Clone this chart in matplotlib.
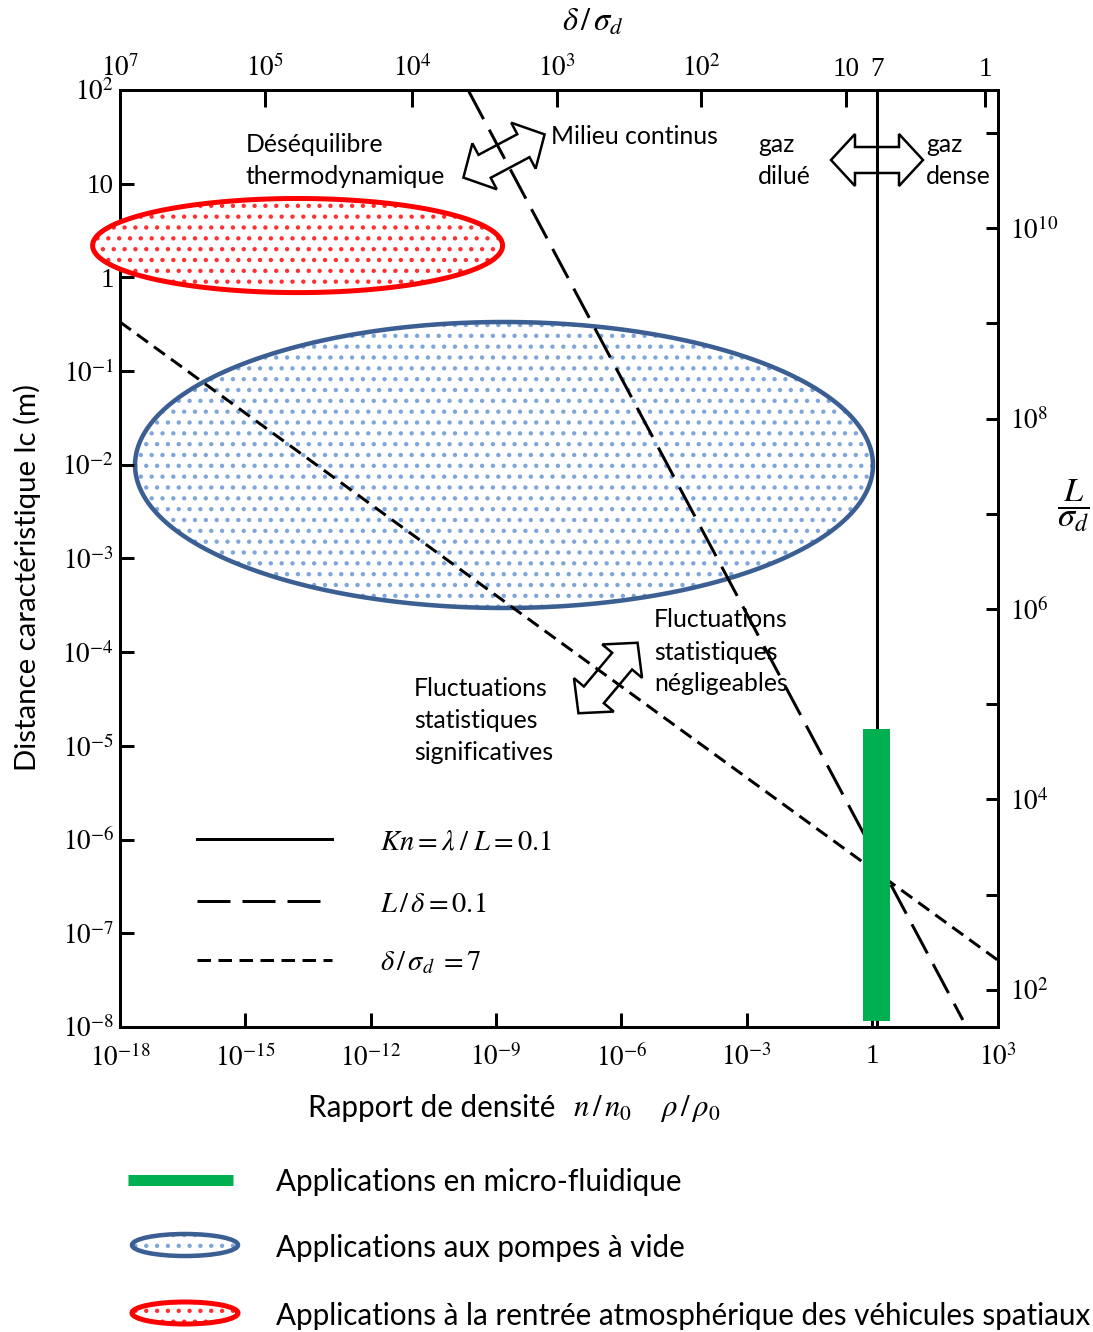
import numpy as np
import matplotlib
matplotlib.use('Agg')
import matplotlib.pyplot as plt
from matplotlib.lines import Line2D
from matplotlib.patches import Polygon, Ellipse
from matplotlib.ticker import FixedLocator, FixedFormatter, NullLocator

W, H, DPI = 1093, 1332, 130


def P(v):
    return v * 72.0 / DPI  # pixels -> points


def fx(x):
    return x / W


def fy(y):
    return 1 - y / H


plt.rcParams['mathtext.fontset'] = 'stix'
plt.rcParams['font.family'] = ['Lato', 'DejaVu Sans']
plt.rcParams['hatch.linewidth'] = 1.2

# ---------------- data ----------------
x_ticks = [1e-18, 1e-15, 1e-12, 1e-9, 1e-6, 1e-3, 1, 1e3]
x_ticklabels = [r'$10^{-18}$', r'$10^{-15}$', r'$10^{-12}$', r'$10^{-9}$',
                r'$10^{-6}$', r'$10^{-3}$', '1', r'$10^{3}$']
y_ticks = [1e-8, 1e-7, 1e-6, 1e-5, 1e-4, 1e-3, 1e-2, 1e-1, 1, 10, 1e2]
y_ticklabels = [r'$10^{-8}$', r'$10^{-7}$', r'$10^{-6}$', r'$10^{-5}$', r'$10^{-4}$',
                r'$10^{-3}$', r'$10^{-2}$', r'$10^{-1}$', '1', '10', r'$10^{2}$']
# top axis (delta / sigma_d) tick positions expressed as log10(n/n0)
top_tick_exp = [-18.0, -14.53, -11.01, -7.54, -4.10, -0.63, 0.11, 2.70]
top_ticklabels = [r'$10^{7}$', r'$10^{5}$', r'$10^{4}$', r'$10^{3}$', r'$10^{2}$', '10', '7', '1']
# right axis L / sigma_d
right_lim_exp = [1.61, 11.45]
right_tick_exp = [2, 3, 4, 5, 6, 7, 8, 9, 10, 11]
right_ticklabels = [r'$10^{2}$', '', r'$10^{4}$', '', r'$10^{6}$', '', r'$10^{8}$', '', r'$10^{10}$', '']

# boundary lines (log10 coordinates)
continuum_x_exp = [-9.67, 2.17]      # long dash
continuum_y_exp = [2.0, -7.925]
fluct_x_exp = [-18.0, 3.0]           # short dash
fluct_y_exp = [-0.476, -7.285]
dense_x_exp = 0.11                    # solid vertical
# micro-fluidics bar
micro_x_exp = [-0.221, 0.426]
micro_y_exp = [-7.936, -4.82]
# application ellipses: centre (log x, log y), semi-axes (decades)
reentry_center = (-13.75, 0.340)
reentry_semi = (4.905, 0.502)
vacuum_center = (-8.81, -2.002)
vacuum_semi = (8.83, 1.526)

GREEN = '#00b050'
RED = '#ff0000'
RED_DOT = '#ff3030'
BLUE = '#3b5f92'
BLUE_DOT = '#7fa6dc'

fig = plt.figure(figsize=(W / DPI, H / DPI), dpi=DPI)
ax = fig.add_axes([fx(120), fy(1027), (997.5 - 120) / W, (1027 - 90) / H])
ax.set_xscale('log')
ax.set_yscale('log')
ax.set_xlim(x_ticks[0], x_ticks[-1])
ax.set_ylim(y_ticks[0], y_ticks[-1])
ax.xaxis.set_major_locator(FixedLocator(x_ticks))
ax.xaxis.set_major_formatter(FixedFormatter(x_ticklabels))
ax.yaxis.set_major_locator(FixedLocator(y_ticks))
ax.yaxis.set_major_formatter(FixedFormatter(y_ticklabels))
ax.xaxis.set_minor_locator(NullLocator())
ax.yaxis.set_minor_locator(NullLocator())
ax.tick_params(axis='both', which='major', direction='in', width=P(3), length=P(14),
               labelsize=15, labelfontfamily='Liberation Serif', top=False, right=False)
ax.tick_params(axis='x', pad=P(17))
ax.tick_params(axis='y', pad=P(6))
for s in ax.spines.values():
    s.set_linewidth(P(3))

# top axis
axt = ax.twiny()
axt.set_xscale('log')
axt.set_xlim(ax.get_xlim())
axt.xaxis.set_major_locator(FixedLocator([10.0 ** e for e in top_tick_exp]))
axt.xaxis.set_major_formatter(FixedFormatter(top_ticklabels))
axt.xaxis.set_minor_locator(NullLocator())
axt.tick_params(axis='x', direction='in', width=P(3), length=P(17), labelsize=15,
                labelfontfamily='Liberation Serif', pad=P(8))
for s in axt.spines.values():
    s.set_visible(False)

# right axis
axr = ax.twinx()
axr.set_yscale('log')
axr.set_ylim(10.0 ** right_lim_exp[0], 10.0 ** right_lim_exp[1])
axr.yaxis.set_major_locator(FixedLocator([10.0 ** e for e in right_tick_exp]))
axr.yaxis.set_major_formatter(FixedFormatter(right_ticklabels))
axr.yaxis.set_minor_locator(NullLocator())
axr.tick_params(axis='y', direction='in', width=P(3), length=P(12), labelsize=15,
                labelfontfamily='Liberation Serif', pad=P(12))
for s in axr.spines.values():
    s.set_visible(False)


def ellipse_pts(center, semi):
    t = np.linspace(0, 2 * np.pi, 500)
    return np.column_stack([10.0 ** (center[0] + semi[0] * np.cos(t)),
                            10.0 ** (center[1] + semi[1] * np.sin(t))])


# vacuum pumps ellipse
pts = ellipse_pts(vacuum_center, vacuum_semi)
ax.add_patch(Polygon(pts, closed=True, facecolor='white', edgecolor=BLUE_DOT, hatch='..',
                     lw=0, zorder=1))
ax.add_patch(Polygon(pts, closed=True, fill=False, edgecolor=BLUE, lw=P(4.5), zorder=1.2))

# reentry ellipse (goes past the left spine)
pts = ellipse_pts(reentry_center, reentry_semi)
ax.add_patch(Polygon(pts, closed=True, facecolor='white', edgecolor=RED_DOT, hatch='..',
                     lw=0, zorder=3, clip_on=False))
ax.add_patch(Polygon(pts, closed=True, fill=False, edgecolor=RED, lw=P(5), zorder=3.1,
                     clip_on=False))

# boundary lines
LW = P(3)
long_dash = (11, 4)
short_dash = (4.5, 2.5)
ax.plot([10.0 ** dense_x_exp] * 2, [y_ticks[0], y_ticks[-1]], color='black', lw=LW,
        zorder=2, solid_capstyle='butt')
ax.plot([10.0 ** e for e in continuum_x_exp], [10.0 ** e for e in continuum_y_exp],
        color='black', lw=LW, dashes=long_dash, zorder=2)
ax.plot([10.0 ** e for e in fluct_x_exp], [10.0 ** e for e in fluct_y_exp],
        color='black', lw=LW, dashes=short_dash, zorder=2)

# micro-fluidics bar
ax.fill_betweenx([10.0 ** e for e in micro_y_exp], 10.0 ** micro_x_exp[0],
                 10.0 ** micro_x_exp[1], color=GREEN, lw=0, zorder=4)


# ---------------- hollow double arrows ----------------
def dbl_arrow(cx, cy, ang, L=92, Wh=52, Ws=26, Hh=24):
    u = np.array([-L / 2, -L / 2 + Hh, -L / 2 + Hh, L / 2 - Hh, L / 2 - Hh, L / 2,
                  L / 2 - Hh, L / 2 - Hh, -L / 2 + Hh, -L / 2 + Hh])
    v = np.array([0, Wh / 2, Ws / 2, Ws / 2, Wh / 2, 0, -Wh / 2, -Ws / 2, -Ws / 2, -Wh / 2])
    t = np.deg2rad(ang)
    xs = cx + u * np.cos(t) - v * np.sin(t)
    ys = cy - (u * np.sin(t) + v * np.cos(t))
    fig.add_artist(Polygon(np.column_stack([xs / W, 1 - ys / H]), closed=True, fill=False,
                           edgecolor='black', lw=P(2.5), joinstyle='miter',
                           transform=fig.transFigure, zorder=5))


dbl_arrow(504, 156, 28)
dbl_arrow(877, 160, 0)
dbl_arrow(608, 678, 50)


# ---------------- annotations ----------------
def lines_text(x, y0, lines, size=13.7, step=32):
    for i, s in enumerate(lines):
        fig.text(fx(x), fy(y0 + i * step), s, fontsize=size, ha='left', va='center_baseline')


lines_text(246, 142, ['Déséquilibre', 'thermodynamique'])
lines_text(551, 134, ['Milieu continus'])
lines_text(758, 142, ['gaz', 'dilué'])
lines_text(926, 142, ['gaz', 'dense'])
lines_text(654, 618, ['Fluctuations', 'statistiques', 'négligeables'])
lines_text(414, 686, ['Fluctuations', 'statistiques', 'significatives'])

# inner legend of boundary lines
leg_rows = [(839, None, r'$Kn = \lambda\;/\;L = 0.1$'),
            (901, long_dash, r'$L\,/\,\delta = 0.1$'),
            (960, short_dash, r'$\delta\,/\,\sigma_d\; = 7$')]
for y, d, lab in leg_rows:
    kw = dict(color='black', lw=LW, transform=fig.transFigure)
    if d is not None:
        kw['dashes'] = d
    fig.add_artist(Line2D([fx(197), fx(332)], [fy(y), fy(y)], **kw))
    fig.text(fx(380), fy(y), lab, fontsize=15.8, ha='left', va='center_baseline')

# axis titles
fig.text(fx(27), fy(578), 'Distance caractéristique lc (m)', fontsize=16.3, rotation=90,
         ha='center', va='center')
fig.text(fx(555), fy(1105), 'Rapport de densité', fontsize=16.4, ha='right',
         va='center_baseline')
fig.text(fx(573), fy(1105), r'$n\,/\,n_0\quad\ \rho\,/\,\rho_0$', fontsize=17, ha='left',
         va='center_baseline')
fig.text(fx(593), fy(22), r'$\delta\,/\,\sigma_d$', fontsize=18, ha='center', va='center')
fig.text(fx(1073), fy(506), r'$\dfrac{L}{\sigma_d}$', fontsize=19, ha='center', va='center')

# ---------------- application legend ----------------
fig.add_artist(Line2D([fx(128), fx(233)], [fy(1180), fy(1180)], color=GREEN, lw=P(11),
                      solid_capstyle='butt', transform=fig.transFigure))
for yc, edge, dot, lw in [(1245, BLUE, BLUE_DOT, 4.5), (1313, RED, RED_DOT, 5)]:
    fig.add_artist(Ellipse((fx(185), fy(yc)), 106 / W, 22 / H, facecolor='white',
                           edgecolor=dot, hatch='..', lw=0, transform=fig.transFigure))
    fig.add_artist(Ellipse((fx(185), fy(yc)), 106 / W, 22 / H, fill=False,
                           edgecolor=edge, lw=P(lw), transform=fig.transFigure))
app_labels = ['Applications en micro-fluidique', 'Applications aux pompes à vide',
              'Applications à la rentrée atmosphérique des véhicules spatiaux']
for yc, lab in zip([1180, 1246, 1314], app_labels):
    fig.text(fx(276), fy(yc), lab, fontsize=16.4, ha='left', va='center_baseline')

fig.savefig('out.png', dpi=DPI)
